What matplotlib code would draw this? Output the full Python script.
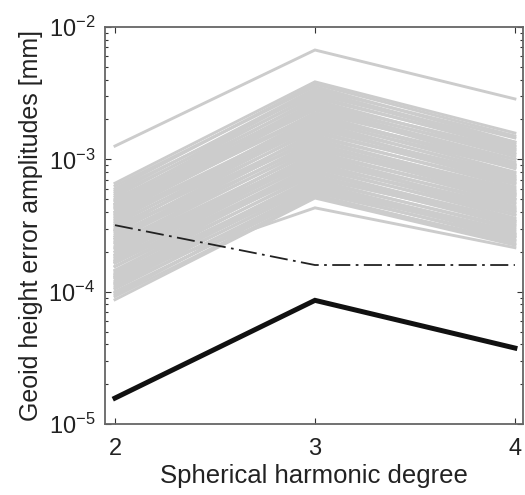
import numpy as np
import matplotlib
matplotlib.use('Agg')
import matplotlib.pyplot as plt

plt.rcParams['font.family'] = ['Liberation Sans', 'DejaVu Sans']
plt.rcParams['mathtext.fontset'] = 'custom'
plt.rcParams['mathtext.rm'] = 'Liberation Sans'
plt.rcParams['mathtext.it'] = 'Liberation Sans'

degrees = [2, 3, 4]

# gray lines: amplitudes at degree 2, 3, 4 (units of 1e-4 mm)
gray_deg2 = [6.6, 6.0, 6.3, 5.6, 5.2, 5.8, 4.9, 5.4, 4.6, 5.0, 4.4, 4.8, 4.2, 3.9, 4.5,
             3.8, 4.0, 3.4, 3.7, 3.2, 3.5, 3.0, 3.3, 2.8, 3.1, 2.6, 2.9, 2.5, 2.7, 2.3,
             2.5, 2.2, 2.35, 2.0, 2.15, 1.85, 2.0, 1.75, 1.9, 1.65, 1.8, 1.55, 1.65, 1.45, 1.55,
             1.35, 1.45, 1.28, 1.35, 1.2, 1.25, 1.12, 1.17, 1.05, 1.08, 0.98, 1.0, 0.92, 0.87, 1.3,
             4.6, 2.9, 3.6, 2.4, 2.9, 1.9, 2.1, 1.4, 1.7, 1.15, 1.3, 0.95, 4.0, 4.3, 2.6, 1.7,
             12.6]
gray_deg3 = [38.5, 37.0, 35.5, 34.0, 33.0, 32.0, 31.0, 30.0, 29.0, 28.0, 27.0, 26.0, 25.0, 24.5, 23.5,
             22.5, 21.5, 21.0, 20.0, 19.5, 19.0, 18.2, 17.5, 17.0, 16.4, 15.8, 15.2, 14.7, 14.2, 13.7,
             13.2, 12.7, 12.3, 11.9, 11.5, 11.1, 10.7, 10.3, 10.0, 9.7, 9.4, 9.1, 8.8, 8.5, 8.2,
             7.9, 7.6, 7.3, 7.0, 6.8, 6.6, 6.4, 6.2, 6.0, 5.8, 5.6, 5.4, 5.2, 5.1, 4.3,
             24.0, 20.5, 18.0, 16.0, 14.0, 12.0, 10.5, 9.0, 8.0, 7.2, 6.5, 5.9, 26.5, 22.0, 13.0, 11.0,
             67.0]
gray_deg4 = [15.8, 15.0, 13.5, 14.5, 13.0, 12.5, 13.5, 12.0, 12.5, 11.0, 11.5, 10.5, 11.0, 10.0, 9.5,
             10.0, 8.8, 9.2, 8.0, 8.6, 7.5, 7.8, 7.0, 7.4, 6.6, 7.0, 6.2, 6.5, 5.8, 6.0,
             5.4, 5.7, 5.0, 5.3, 4.7, 5.0, 4.4, 4.6, 4.1, 4.3, 3.8, 4.0, 3.6, 3.8, 3.4,
             3.5, 3.15, 3.3, 2.95, 3.05, 2.75, 2.85, 2.6, 2.7, 2.45, 2.55, 2.3, 2.4, 2.25, 2.15,
             9.0, 9.0, 6.8, 7.2, 5.5, 5.5, 4.0, 4.2, 3.2, 3.4, 2.6, 2.7, 11.8, 8.5, 5.2, 4.9,
             28.6]

# reference curves (mm)
dashdot_vals = [3.18e-4, 1.59e-4, 1.59e-4]
signal_vals = [1.57e-5, 8.6e-5, 3.75e-5]

fig = plt.figure(figsize=(5.25, 4.95), dpi=100)
ax = fig.add_axes([0.2, 0.1434, 0.796, 0.8021])

for a, b, c in zip(gray_deg2, gray_deg3, gray_deg4):
    ax.plot(degrees, np.array([a, b, c]) * 1e-4, color='#cccccc', lw=2.1,
            solid_joinstyle='miter')

ax.plot(degrees, dashdot_vals, color='#222222', lw=1.3,
        linestyle=(0, (10, 3, 1.5, 3)))
ax.plot(degrees, signal_vals, color='#111111', lw=3.6, solid_joinstyle='miter')

ax.set_yscale('log')
ax.set_ylim(1e-5, 1e-2)
ax.set_xlim(1.95, 4.04)
ax.set_xticks(degrees)
ax.set_xticklabels(['2', '3', '4'])

ax.tick_params(axis='both', which='both', direction='in', top=True, right=True,
               labelsize=17, colors='#333333', labelcolor='#222222')
ax.tick_params(axis='both', which='major', length=4, width=0.8)
ax.tick_params(axis='y', which='minor', length=2, width=0.8)
ax.tick_params(axis='x', pad=10)
ax.tick_params(axis='y', pad=7)

for s in ax.spines.values():
    s.set_color('#666666')
    s.set_linewidth(1.3)

ax.set_xlabel('Spherical harmonic degree', fontsize=18.5, color='#222222', labelpad=3)
ax.set_ylabel('Geoid height error amplitudes [mm]', fontsize=18, color='#222222',
              labelpad=4)

fig.savefig('out.png', dpi=100)
